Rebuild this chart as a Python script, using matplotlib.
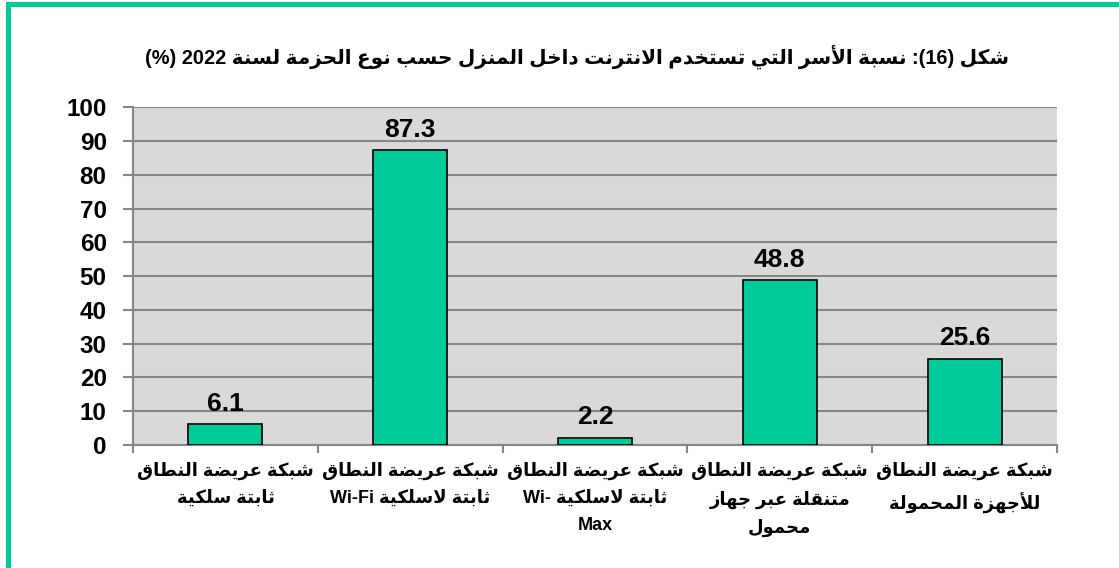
import matplotlib
matplotlib.use("Agg")
import matplotlib.pyplot as plt
from matplotlib.patches import Rectangle

# ---------------- data ----------------
title = "شكل (16): نسبة الأسر التي تستخدم الانترنت داخل المنزل حسب نوع الحزمة لسنة 2022 (%)"
categories = [
    "شبكة عريضة النطاق\nثابتة سلكية",
    "شبكة عريضة النطاق\nثابتة لاسلكية Wi-Fi",
    "شبكة عريضة النطاق\nثابتة لاسلكية Wi-\nMax",
    "شبكة عريضة النطاق\nمتنقلة عبر جهاز\nمحمول",
    "شبكة عريضة النطاق\nللأجهزة المحمولة",
]
values = [6.1, 87.3, 2.2, 48.8, 25.6]
yticks = [0, 10, 20, 30, 40, 50, 60, 70, 80, 90, 100]

# ---------------- minimal Arabic shaping + bidi ----------------
_F = {
    'ا': (0xFE8D, 0xFE8E), 'أ': (0xFE83, 0xFE84), 'إ': (0xFE87, 0xFE88), 'آ': (0xFE81, 0xFE82),
    'د': (0xFEA9, 0xFEAA), 'ذ': (0xFEAB, 0xFEAC), 'ر': (0xFEAD, 0xFEAE), 'ز': (0xFEAF, 0xFEB0),
    'و': (0xFEED, 0xFEEE), 'ة': (0xFE93, 0xFE94), 'ى': (0xFEEF, 0xFEF0),
    'ب': 0xFE8F, 'ت': 0xFE95, 'ث': 0xFE99, 'ج': 0xFE9D, 'ح': 0xFEA1, 'خ': 0xFEA5,
    'س': 0xFEB1, 'ش': 0xFEB5, 'ص': 0xFEB9, 'ض': 0xFEBD, 'ط': 0xFEC1, 'ظ': 0xFEC5,
    'ع': 0xFEC9, 'غ': 0xFECD, 'ف': 0xFED1, 'ق': 0xFED5, 'ك': 0xFED9, 'ل': 0xFEDD,
    'م': 0xFEE1, 'ن': 0xFEE5, 'ه': 0xFEE9, 'ي': 0xFEF1,
}
_LA = {'ا': (0xFEFB, 0xFEFC), 'أ': (0xFEF7, 0xFEF8), 'إ': (0xFEF9, 0xFEFA), 'آ': (0xFEF5, 0xFEF6)}
_MIR = {'(': ')', ')': '(', '[': ']', ']': '['}


def _dual(c):
    return isinstance(_F.get(c), int)


def shape(s):
    out = []
    i, n = 0, len(s)
    while i < n:
        c = s[i]
        if c not in _F:
            out.append(c)
            i += 1
            continue
        pj = _dual(s[i - 1]) if i > 0 else False
        if c == 'ل' and i + 1 < n and s[i + 1] in _LA:
            iso, fin = _LA[s[i + 1]]
            out.append(chr(fin if pj else iso))
            i += 2
            continue
        nj = (i + 1 < n) and (s[i + 1] in _F)
        f = _F[c]
        if isinstance(f, int):
            cp = f + (3 if (pj and nj) else 1 if pj else 2 if nj else 0)
        else:
            cp = f[1] if pj else f[0]
        out.append(chr(cp))
        i += 1
    return ''.join(out)


def _cls(c):
    o = ord(c)
    if 0x0600 <= o <= 0x06FF or 0xFB50 <= o <= 0xFEFF:
        return 'R'
    if c.isascii() and (c.isalnum() or c == '-'):
        return 'L'
    return 'N'


def bidi_line(s):
    t = [_cls(c) for c in s]
    n = len(s)
    i = 0
    while i < n:
        if t[i] == 'N':
            j = i
            while j < n and t[j] == 'N':
                j += 1
            prev = t[i - 1] if i > 0 else 'R'
            nxt = t[j] if j < n else 'R'
            r = prev if prev == nxt else 'R'
            for k in range(i, j):
                t[k] = r
            i = j
        else:
            i += 1
    runs = []
    for c, k in zip(s, t):
        if runs and runs[-1][0] == k:
            runs[-1][1].append(c)
        else:
            runs.append([k, [c]])
    out = []
    for k, chars in reversed(runs):
        if k == 'R':
            out.append(''.join(_MIR.get(c, c) for c in reversed(chars)))
        else:
            out.append(''.join(chars))
    return ''.join(out)


def ar(text):
    return '\n'.join(bidi_line(shape(line)) for line in text.split('\n'))


# ---------------- plot ----------------
plt.rcParams['font.family'] = ['Liberation Sans', 'DejaVu Sans']
plt.rcParams['font.weight'] = 'bold'

GREEN = '#00CC99'
GRAY = '#868686'

fig = plt.figure(figsize=(11.19, 5.68), dpi=100)
ax = fig.add_axes([0.1189, 0.2165, 0.9446 - 0.1189, 0.8111 - 0.2165])

x = list(range(len(values)))
ax.bar(x, values, width=0.4, color=GREEN, edgecolor='black', linewidth=1.2, zorder=3)

ax.set_xlim(-0.5, len(values) - 0.5)
ax.set_ylim(0, 100)
ax.set_facecolor('#D9D9D9')
ax.set_yticks(yticks)
ax.set_yticklabels([str(v) for v in yticks], fontsize=17.5, fontweight='bold')
ax.yaxis.grid(True, color=GRAY, linewidth=1.5, zorder=1)
ax.set_axisbelow(True)

ax.set_xticks(x)
ax.set_xticklabels([ar(c) for c in categories], fontsize=13, fontweight='bold',
                   linespacing=1.75, va='top')
ax.set_xticks([i - 0.5 for i in range(len(values) + 1)], minor=True)
ax.tick_params(axis='x', which='major', length=0, pad=12)
ax.tick_params(axis='x', which='minor', length=6, width=1.5, color=GRAY, direction='out')
ax.tick_params(axis='y', length=7, width=1.5, color=GRAY, direction='out', pad=12)

for s in ['top', 'right']:
    ax.spines[s].set_visible(False)
for s in ['left', 'bottom']:
    ax.spines[s].set_color(GRAY)
    ax.spines[s].set_linewidth(1.5)

for xi, v in zip(x, values):
    ax.annotate(f"{v}", (xi, v), xytext=(0, 6), textcoords='offset points',
                ha='center', va='bottom', fontsize=19, fontweight='bold', zorder=4)

fig.text(0.516, 0.9, ar(title), ha='center', va='center', fontsize=14.4, fontweight='bold')

# green frame (top and left visible)
fig.patches.append(Rectangle((7.5 / 1119, -0.1), 1.2, 1.1 - 4.5 / 568,
                             transform=fig.transFigure, fill=False,
                             edgecolor=GREEN, linewidth=3.6, zorder=10))

fig.savefig('out.png', dpi=100)
